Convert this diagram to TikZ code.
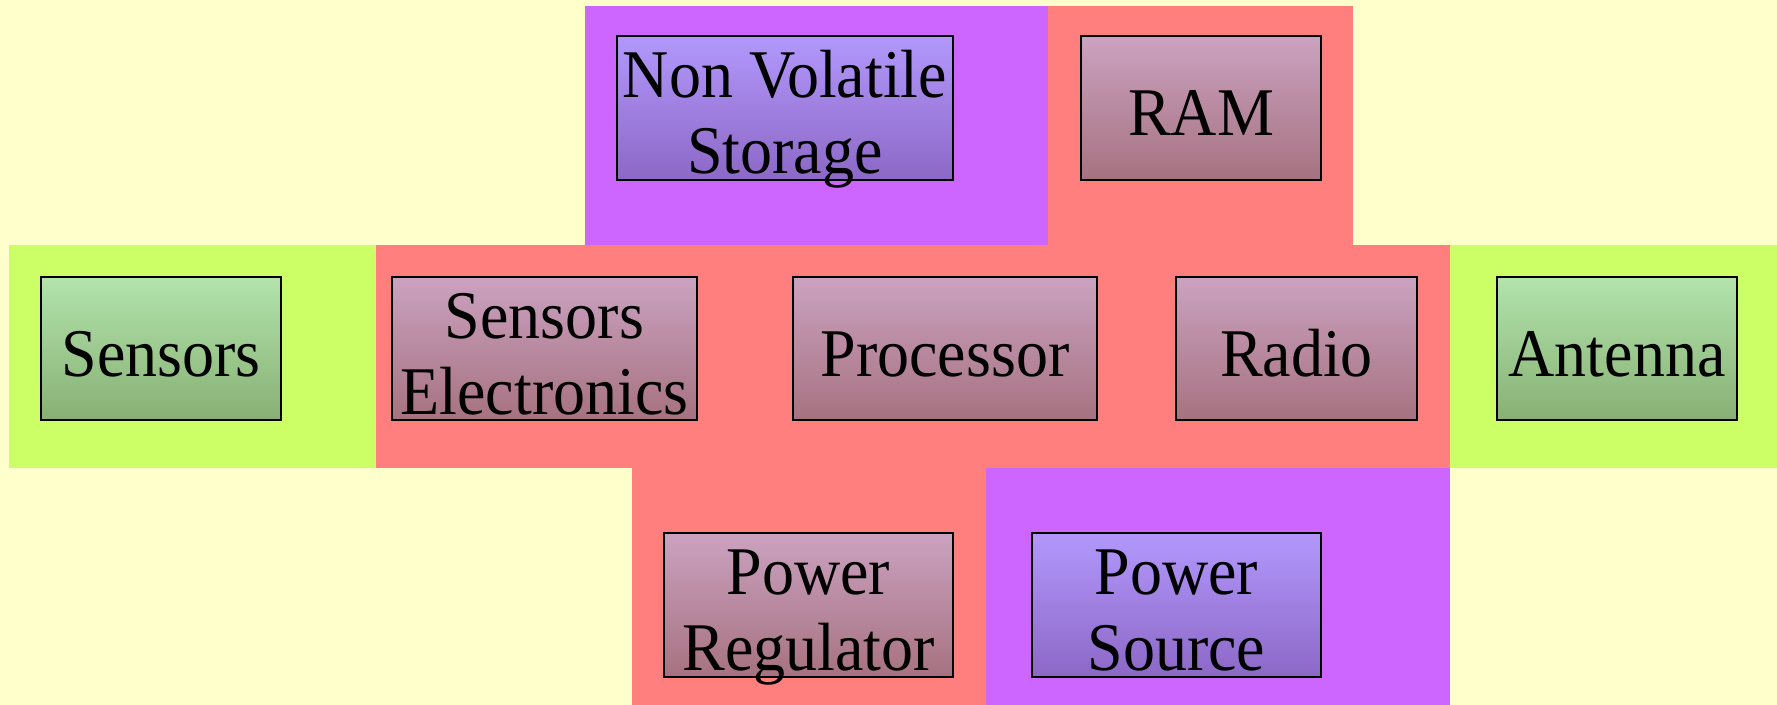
\documentclass[tikz,border=0pt]{standalone}
\usepackage{fontspec}
\setmainfont{Liberation Serif}
\usepackage{graphicx}
\definecolor{bgyellow}{RGB}{255,255,204}
\definecolor{zonepurple}{RGB}{204,102,255}
\definecolor{zonered}{RGB}{255,127,127}
\definecolor{zonegreen}{RGB}{204,255,102}
\definecolor{redtop}{RGB}{203,162,192}
\definecolor{redbot}{RGB}{166,114,128}
\definecolor{purtop}{RGB}{178,152,252}
\definecolor{purbot}{RGB}{140,104,198}
\definecolor{grntop}{RGB}{178,228,172}
\definecolor{grnbot}{RGB}{136,176,116}
\newcommand\boxtext[1]{\raisebox{-13pt}[0pt][0pt]{\scalebox{1}[1.066]{\begin{tabular}{@{}c@{}}#1\end{tabular}}}}
\tikzset{
  blk/.style={draw=black, line width=0.75pt, inner sep=0pt, anchor=center,
    font=\fontsize{32}{35.6}\selectfont},
  redblk/.style={blk, top color=redtop, bottom color=redbot},
  purblk/.style={blk, top color=purtop, bottom color=purbot},
  grnblk/.style={blk, top color=grntop, bottom color=grnbot},
}
\begin{document}
\begin{tikzpicture}[x=0.5pt, y=-0.5pt]
  \fill[bgyellow] (0,0) rectangle (1777,705);
  \useasboundingbox (0,0) rectangle (1777,705);
  % zones
  \fill[zonepurple] (585,6) rectangle (1048,245);
  \fill[zonered] (1048,6) rectangle (1353,245);
  \fill[zonegreen] (9,245) rectangle (376,468);
  \fill[zonered] (376,245) rectangle (1450,468);
  \fill[zonegreen] (1450,245) rectangle (1777,468);
  \fill[zonered] (632,468) rectangle (986,705);
  \fill[zonepurple] (986,468) rectangle (1450,705);
  % blocks
  \node[purblk, minimum width=168pt, minimum height=72pt] (nvs) at (785,108) {\boxtext{Non Volatile\\Storage}};
  \node[redblk, minimum width=120pt, minimum height=72pt] (ram) at (1201,108) {\boxtext{RAM}};
  \node[grnblk, minimum width=120pt, minimum height=71.5pt] (sens) at (161,348.5) {\boxtext{Sensors}};
  \node[redblk, minimum width=152.5pt, minimum height=71.5pt] (sele) at (544.5,348.5) {\boxtext{Sensors\\Electronics}};
  \node[redblk, minimum width=152pt, minimum height=71.5pt] (proc) at (945,348.5) {\boxtext{Processor}};
  \node[redblk, minimum width=120.5pt, minimum height=71.5pt] (radio) at (1296.5,348.5) {\boxtext{Radio}};
  \node[grnblk, minimum width=120pt, minimum height=71.5pt] (ant) at (1617,348.5) {\boxtext{Antenna}};
  \node[redblk, minimum width=144.5pt, minimum height=72pt] (preg) at (808.5,605) {\boxtext{Power\\Regulator}};
  \node[purblk, minimum width=144.5pt, minimum height=72pt] (psrc) at (1176.5,605) {\boxtext{Power\\Source}};
\end{tikzpicture}
\end{document}
